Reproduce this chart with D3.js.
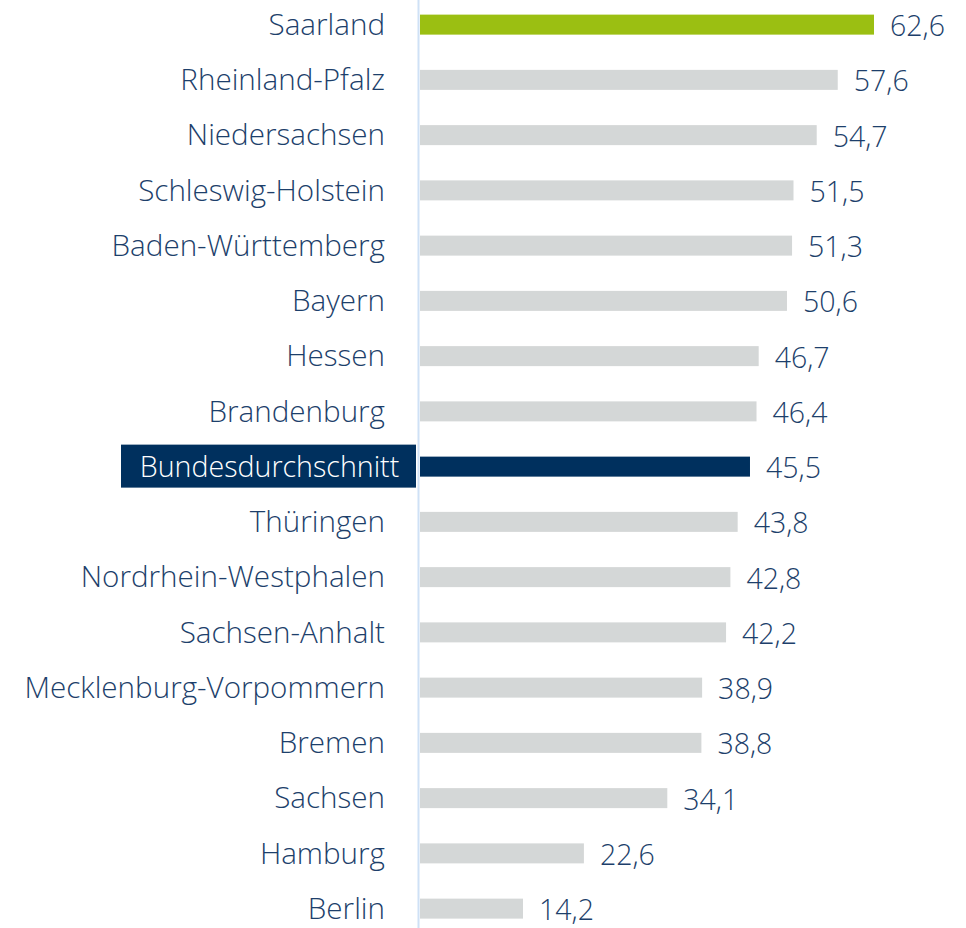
<!DOCTYPE html>
<html>
<head>
<meta charset="utf-8">
<script src="https://cdn.jsdelivr.net/npm/d3@7"></script>
<style>
  html, body { margin: 0; padding: 0; background: #fff; }
  svg { display: block; }
</style>
</head>
<body>
<div id="chart"></div>
<script>
// Bundesländer, Werte in Prozent
const laender = [
    "Saarland", "Rheinland-Pfalz", "Niedersachsen", "Schleswig-Holstein",
    "Baden-Württemberg", "Bayern", "Hessen", "Brandenburg",
    "Bundesdurchschnitt", "Thüringen", "Nordrhein-Westphalen", "Sachsen-Anhalt",
    "Mecklenburg-Vorpommern", "Bremen", "Sachsen", "Hamburg", "Berlin"
];
const werte = [
    62.6, 57.6, 54.7, 51.5,
    51.3, 50.6, 46.7, 46.4,
    45.5, 43.8, 42.8, 42.2,
    38.9, 38.8, 34.1, 22.6, 14.2
];
const highlight = "Saarland";
const average = "Bundesdurchschnitt";

function drawChart() {
    const width = 966, height = 928;
    const data = laender.map((name, i) => ({name: name, value: werte[i]}));
    const fmt = v => d3.format(".1f")(v).replace(".", ",");

    const svg = d3.select("#chart")
        .append("svg")
        .attr("width", width)
        .attr("height", height);

    const x = d3.scaleLinear()
        .domain([0, 62.6])
        .range([420, 874]);

    const y = d3.scaleBand()
        .domain(laender)
        .range([-3, 936.25])
        .padding(0);

    const barH = 20;
    const mid = d => y(d) + y.bandwidth() / 2;

    // Bundesdurchschnitt label box
    svg.append("rect")
        .attr("x", 121)
        .attr("y", mid(average) - 22)
        .attr("width", 295)
        .attr("height", 43)
        .attr("fill", "#00305e");

    // bars
    svg.append("g").selectAll("rect")
        .data(data)
        .join("rect")
        .attr("x", x(0))
        .attr("y", d => mid(d.name) - barH / 2)
        .attr("width", d => x(d.value) - x(0))
        .attr("height", barH)
        .attr("fill", d => d.name === highlight ? "#9bbf12"
            : d.name === average ? "#00305e" : "#d4d7d7");

    // axis line
    svg.append("line")
        .attr("x1", 418.5).attr("x2", 418.5)
        .attr("y1", 0).attr("y2", height)
        .attr("stroke", "#cfe1f6")
        .attr("stroke-width", 2);

    // category labels
    svg.append("g").selectAll("text")
        .data(data)
        .join("text")
        .attr("x", d => d.name === average ? 269.5 : 385)
        .attr("y", d => mid(d.name))
        .attr("dy", "0.35em")
        .attr("text-anchor", d => d.name === average ? "middle" : "end")
        .attr("font-family", "'Open Sans', sans-serif")
        .attr("font-size", d => d.name === average ? 28.6 : 29.6)
        .attr("font-weight", 300)
        .attr("fill", d => d.name === average ? "#ffffff" : "#1d3f6b")
        .text(d => d.name);

    // value labels
    svg.append("g").selectAll("text")
        .data(data)
        .join("text")
        .attr("x", d => x(d.value) + 16)
        .attr("y", d => mid(d.name) + 1.5)
        .attr("dy", "0.35em")
        .attr("font-family", "'Open Sans', sans-serif")
        .attr("font-size", 28.5)
        .attr("font-weight", 300)
        .attr("fill", "#1d3f6b")
        .text(d => fmt(d.value));
}
drawChart();
</script>
</body>
</html>
